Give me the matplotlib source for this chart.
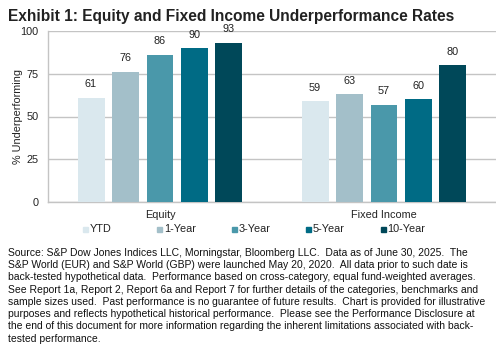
import numpy as np
import matplotlib
matplotlib.use("Agg")
import matplotlib.pyplot as plt
from matplotlib.patches import Rectangle

plt.rcParams['font.family'] = ['Liberation Sans', 'DejaVu Sans']

# data
groups = ["Equity", "Fixed Income"]
periods = ["YTD", "1-Year", "3-Year", "5-Year", "10-Year"]
equity = [61, 76, 86, 90, 93]
fixed_income = [59, 63, 57, 60, 80]
colors = ["#dae8ee", "#a3bfc9", "#4a98aa", "#006b85", "#004859"]
yticks = [0, 25, 50, 75, 100]

footnote = ("Source: S&P Dow Jones Indices LLC, Morningstar, Bloomberg LLC.  Data as of June 30, 2025.  The\n"
            "S&P World (EUR) and S&P World (GBP) were launched May 20, 2020.  All data prior to such date is\n"
            "back-tested hypothetical data.  Performance based on cross-category, equal fund-weighted averages.\n"
            "See Report 1a, Report 2, Report 6a and Report 7 for further details of the categories, benchmarks and\n"
            "sample sizes used.  Past performance is no guarantee of future results.  Chart is provided for illustrative\n"
            "purposes and reflects hypothetical historical performance.  Please see the Performance Disclosure at\n"
            "the end of this document for more information regarding the inherent limitations associated with back-\n"
            "tested performance.")

W, H = 496, 345
fig = plt.figure(figsize=(W / 100, H / 100), dpi=100)
ax = fig.add_axes([48 / W, 1 - 202 / H, 448 / W, 171 / H])

vals = np.array([equity, fixed_income])  # groups x periods
x = np.arange(len(groups))
step = 0.154
width = 0.1205
for i, p in enumerate(periods):
    pos = x + (i - 2) * step
    bars = ax.bar(pos, vals[:, i], width=width, color=colors[i], zorder=3)
    for b, v in zip(bars, vals[:, i]):
        ax.text(b.get_x() + b.get_width() / 2, v + 5, str(v), ha="center",
                va="bottom", fontsize=7.8, color="#222222")

ax.set_xlim(-0.5, 1.5)
ax.set_ylim(0, 100)
ax.set_yticks(yticks)
ax.set_xticks(x)
ax.set_xticklabels(groups, fontsize=7.8)
ax.tick_params(axis="both", length=0, labelsize=7.8, colors="#222222")
ax.tick_params(axis="x", pad=6)
ax.tick_params(axis="y", pad=7)
ax.grid(axis="y", color="#c4c4c4", linewidth=1, zorder=0)
for s in ["top", "right"]:
    ax.spines[s].set_visible(False)
for s in ["left", "bottom"]:
    ax.spines[s].set_color("#c4c4c4")
    ax.spines[s].set_linewidth(1)
ax.set_ylabel("% Underperforming", fontsize=7.8, color="#222222")
ax.yaxis.set_label_coords(-0.056, 0.5)

# legend, evenly spaced entries like the original
for i, p in enumerate(periods):
    mx = 82.5 + i * 74.5
    fig.patches.append(Rectangle((mx / W, 1 - 231.5 / H), 5 / W, 5 / H,
                                 transform=fig.transFigure, color=colors[i]))
    fig.text((mx + 7) / W, 1 - 229 / H, p, fontsize=7.8, va="center",
             color="#222222")

fig.text(8 / W, 1 - 17 / H, "Exhibit 1: Equity and Fixed Income Underperformance Rates",
         fontsize=11.2, fontweight="bold", va="center", color="#222222")
fig.text(8 / W, 1 - 248 / H, footnote, fontsize=7.5, va="top", linespacing=1.28,
         color="#111111")

fig.savefig("out.png", dpi=100)
